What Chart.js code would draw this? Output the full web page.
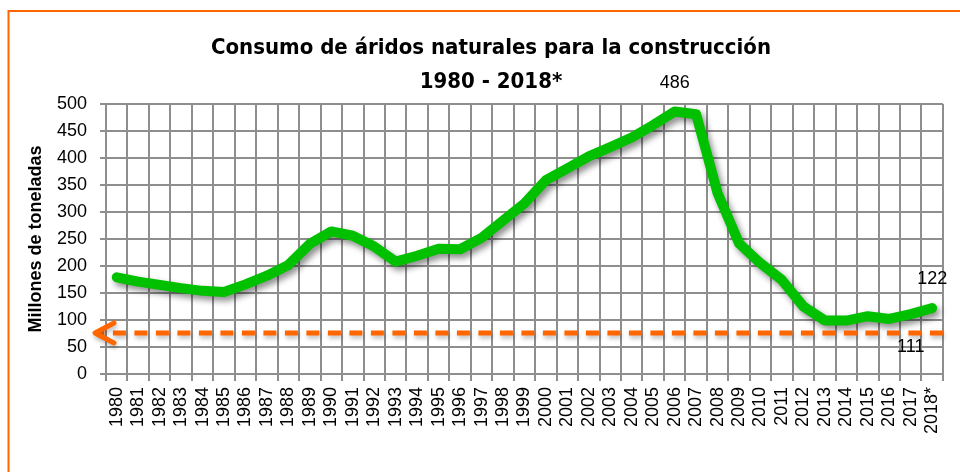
<!DOCTYPE html>
<html>
<head>
<meta charset="utf-8">
<title>Consumo de áridos naturales</title>
<script src="https://cdn.jsdelivr.net/npm/chart.js@4.4.1/dist/chart.umd.min.js"></script>
<style>
  html, body { margin: 0; padding: 0; background: #fff; }
  #wrap { width: 960px; height: 472px; position: relative; }
</style>
</head>
<body>
<div id="wrap"><canvas id="aridosChart" width="960" height="472"></canvas></div>
<script>
// datos (millones de toneladas)
const years = ['1980', '1981', '1982', '1983', '1984', '1985', '1986', '1987', '1988', '1989',
    '1990', '1991', '1992', '1993', '1994', '1995', '1996', '1997', '1998', '1999',
    '2000', '2001', '2002', '2003', '2004', '2005', '2006', '2007', '2008', '2009',
    '2010', '2011', '2012', '2013', '2014', '2015', '2016', '2017', '2018*'];
const consumo = [179, 171, 165, 159, 154, 152, 166, 182, 202, 241,
    264, 256, 236, 208, 219, 232, 231, 252, 284, 316,
    359, 381, 403, 420, 438, 461, 486, 481, 335, 242,
    205, 174, 125, 99, 99, 107, 102, 111, 122];
const yTicks = [0, 50, 100, 150, 200, 250, 300, 350, 400, 450, 500];
const nivelReferencia = 76;
const puntosEtiquetados = ['2006', '2017', '2018*'];
const etiquetasDebajo = ['2017'];
const titulo = ['Consumo de áridos naturales para la construcción', '1980 - 2018*'];

const gridColor = '#8e8e8e';
const green = '#00c000';
const orange = '#ff6600';
const textFont = "'Liberation Sans', Arial, sans-serif";
const narrowFont = "'Liberation Sans Narrow', 'Arial Narrow', 'DejaVu Sans Condensed', 'Liberation Sans', sans-serif";

const framePlugin = {
    id: 'frame',
    beforeDraw(chart) {
        const ctx = chart.ctx;
        ctx.save();
        ctx.strokeStyle = orange;
        ctx.lineWidth = 2;
        ctx.beginPath();
        ctx.moveTo(8.5, chart.height);
        ctx.lineTo(8.5, 11);
        ctx.lineTo(chart.width, 11);
        ctx.stroke();

        ctx.fillStyle = '#000';
        ctx.textAlign = 'center';
        ctx.textBaseline = 'middle';
        ctx.font = 'bold 22px ' + narrowFont;
        ctx.fillText(titulo[0], 491, 48);
        ctx.fillText(titulo[1], 491, 82);
        ctx.restore();
    }
};

const shadowPlugin = {
    id: 'lineShadow',
    beforeDatasetDraw(chart) {
        const ctx = chart.ctx;
        ctx.save();
        ctx.shadowColor = 'rgba(0, 0, 0, 0.45)';
        ctx.shadowBlur = 6;
        ctx.shadowOffsetX = 3;
        ctx.shadowOffsetY = 4;
    },
    afterDatasetDraw(chart) {
        chart.ctx.restore();
    }
};

const arrowPlugin = {
    id: 'referenceArrow',
    afterDatasetsDraw(chart) {
        const ctx = chart.ctx;
        const area = chart.chartArea;
        const y = chart.scales.y.getPixelForValue(nivelReferencia);
        const tip = area.left - 11;
        ctx.save();
        ctx.shadowColor = 'rgba(0, 0, 0, 0.25)';
        ctx.shadowBlur = 4;
        ctx.shadowOffsetX = 1;
        ctx.shadowOffsetY = 3;
        ctx.strokeStyle = orange;
        ctx.lineWidth = 5;
        ctx.setLineDash([13, 8.5]);
        ctx.beginPath();
        ctx.moveTo(area.right, y);
        ctx.lineTo(tip + 4, y);
        ctx.stroke();
        ctx.setLineDash([]);
        ctx.lineCap = 'round';
        ctx.lineJoin = 'round';
        ctx.beginPath();
        ctx.moveTo(tip + 19, y - 10);
        ctx.lineTo(tip, y);
        ctx.lineTo(tip + 19, y + 10);
        ctx.stroke();
        ctx.restore();

        // etiquetas de valores
        const meta = chart.getDatasetMeta(0);
        ctx.save();
        ctx.fillStyle = '#000';
        ctx.font = '18px ' + textFont;
        ctx.textAlign = 'center';
        ctx.textBaseline = 'middle';
        puntosEtiquetados.forEach(year => {
            const i = years.indexOf(year);
            const pt = meta.data[i];
            const dy = etiquetasDebajo.includes(year) ? 33 : -29;
            ctx.fillText(String(consumo[i]), pt.x, pt.y + dy);
        });
        ctx.restore();
    }
};

new Chart(document.getElementById('aridosChart'), {
    type: 'line',
    data: {
        labels: years,
        datasets: [{
            label: 'Consumo de áridos',
            data: consumo,
            borderColor: green,
            backgroundColor: green,
            borderWidth: 10,
            borderJoinStyle: 'round',
            borderCapStyle: 'round',
            pointRadius: 0,
            tension: 0,
            fill: false
        }]
    },
    options: {
        responsive: false,
        animation: false,
        layout: { padding: { top: 104, left: 8, right: 17, bottom: 0 } },
        plugins: {
            legend: { display: false },
            tooltip: { enabled: false },
            title: { display: false }
        },
        scales: {
            x: {
                offset: true,
                grid: { offset: true, color: gridColor, lineWidth: 2, tickLength: 7 },
                border: { color: gridColor, width: 2 },
                ticks: {
                    autoSkip: false,
                    minRotation: 90,
                    maxRotation: 90,
                    padding: 6,
                    color: '#000',
                    font: { family: textFont, size: 18 }
                },
                afterFit: scale => { scale.height = 98; }
            },
            y: {
                min: yTicks[0],
                max: yTicks[yTicks.length - 1],
                afterBuildTicks: scale => { scale.ticks = yTicks.map(v => ({ value: v })); },
                grid: { color: gridColor, lineWidth: 2, tickLength: 6 },
                border: { color: gridColor, width: 2 },
                ticks: {
                    padding: 13,
                    color: '#000',
                    font: { family: textFont, size: 18 }
                },
                title: {
                    display: true,
                    text: 'Millones de toneladas',
                    color: '#000',
                    font: { family: textFont, size: 18, weight: 'bold' },
                    padding: { top: 17, bottom: 0 }
                },
                afterFit: scale => { scale.width = 98; }
            }
        }
    },
    plugins: [framePlugin, shadowPlugin, arrowPlugin]
});
</script>
</body>
</html>
